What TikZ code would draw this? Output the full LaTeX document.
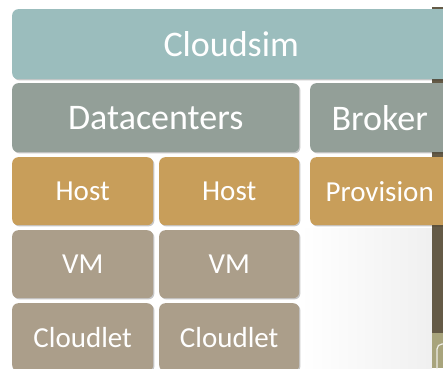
\documentclass[tikz,border=0pt]{standalone}
\usepackage{fontspec}
\setmainfont{Carlito}
\usetikzlibrary{shadows}
\definecolor{cteal}{HTML}{9BBDBD}
\definecolor{cgreen}{HTML}{939F98}
\definecolor{cgold}{HTML}{C89E5A}
\definecolor{ctaupe}{HTML}{AB9E8A}
\definecolor{cdark}{HTML}{645A46}
\definecolor{ckhaki}{HTML}{A8A47C}
\tikzset{
  blockbox/.style={draw=none, rounded corners=6pt, text=white, inner sep=0pt,
    anchor=north west, drop shadow={shadow xshift=1.2pt, shadow yshift=-1.2pt, fill=black, opacity=0.22}},
  bigtext/.style={font=\fontsize{36}{40}\selectfont},
  smalltext/.style={font=\fontsize{29}{33}\selectfont},
}
\begin{document}
\begin{tikzpicture}[x=1pt,y=-1pt]
\useasboundingbox (0,0) rectangle (443,368);
\clip (0,0) rectangle (443,368);
\fill[white] (0,0) rectangle (443,368);
\shade[left color=white, right color=black!6] (300,228) rectangle (432,368);
% background strip at right edge
\fill[cdark] (432,7) rectangle (443,335);
\fill[ckhaki] (432,333) rectangle (443,368);
\draw[white!80!ckhaki, line width=1.2pt, rounded corners=5pt] (450,344) -- (437,344) -- (437,375);
% row 1
\node[blockbox, bigtext, fill=cteal, minimum width=438, minimum height=70] (cloudsim) at (12,9) {Cloudsim};
% row 2
\node[blockbox, bigtext, fill=cgreen, minimum width=287, minimum height=69] (datacenters) at (12,83) {Datacenters};
\node[blockbox, bigtext, fill=cgreen, minimum width=139, minimum height=69] (broker) at (310,83) {Broker};
% row 3
\node[blockbox, smalltext, fill=cgold, minimum width=141, minimum height=68] (host1) at (12,157) {Host};
\node[blockbox, smalltext, fill=cgold, minimum width=140, minimum height=68] (host2) at (159,157) {Host};
\node[blockbox, smalltext, fill=cgold, minimum width=139, minimum height=68] (provision) at (310,157) {Provision};
% row 4
\node[blockbox, smalltext, fill=ctaupe, minimum width=141, minimum height=68] (vm1) at (12,230) {VM};
\node[blockbox, smalltext, fill=ctaupe, minimum width=140, minimum height=68] (vm2) at (159,230) {VM};
% row 5
\node[blockbox, smalltext, fill=ctaupe, minimum width=141, minimum height=68] (cloudlet1) at (12,303) {Cloudlet};
\node[blockbox, smalltext, fill=ctaupe, minimum width=140, minimum height=68] (cloudlet2) at (159,303) {Cloudlet};
\end{tikzpicture}
\end{document}
